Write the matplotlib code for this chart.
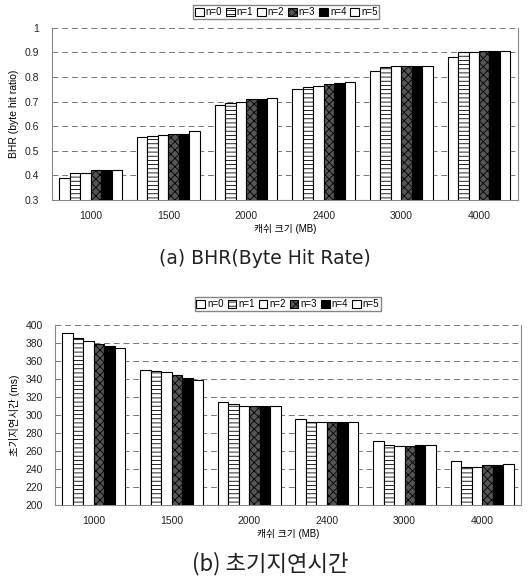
import matplotlib
matplotlib.use('Agg')
from matplotlib import pyplot as plt
import numpy as np

plt.rcParams['font.family'] = ['Liberation Sans', 'Noto Sans CJK KR', 'DejaVu Sans']
plt.rcParams['hatch.linewidth'] = 0.6

# data
cache_sizes = ['1000', '1500', '2000', '2400', '3000', '4000']
series_names = ['n=0', 'n=1', 'n=2', 'n=3', 'n=4', 'n=5']

bhr_n0 = [0.39, 0.555, 0.685, 0.75, 0.826, 0.88]
bhr_n1 = [0.41, 0.56, 0.695, 0.76, 0.84, 0.90]
bhr_n2 = [0.41, 0.565, 0.70, 0.765, 0.845, 0.90]
bhr_n3 = [0.42, 0.57, 0.71, 0.77, 0.845, 0.905]
bhr_n4 = [0.42, 0.57, 0.71, 0.775, 0.845, 0.905]
bhr_n5 = [0.42, 0.58, 0.715, 0.78, 0.845, 0.905]

delay_n0 = [391, 350, 314, 295.5, 271.5, 249]
delay_n1 = [385, 349, 312, 292, 266.7, 242.6]
delay_n2 = [382.6, 348, 310, 292, 265.5, 242]
delay_n3 = [379, 344, 310, 292, 265.5, 244.4]
delay_n4 = [377, 341.5, 310, 292, 266.7, 244.4]
delay_n5 = [374, 339, 310, 292, 267, 245.5]

bhr_ticks = [0.3, 0.4, 0.5, 0.6, 0.7, 0.8, 0.9, 1.0]
bhr_tick_labels = ['0.3', '0.4', '0.5', '0.6', '0.7', '0.8', '0.9', '1']
delay_ticks = [200, 220, 240, 260, 280, 300, 320, 340, 360, 380, 400]

# bar styles (face, hatch)
styles = [('white', ''), ('white', '----'), ('white', ''),
          ('#555555', 'xxxx'), ('black', ''), ('white', '')]

fig = plt.figure(figsize=(5.3, 5.78), dpi=100)
ax_top = fig.add_axes([0.098, 0.654, 0.879, 0.298])
ax_bot = fig.add_axes([0.104, 0.126, 0.879, 0.312])

x = np.arange(len(cache_sizes))
width = 0.135


def draw_bars(ax, data):
    handles = []
    for i, vals in enumerate(data):
        face, hatch = styles[i]
        bars = ax.bar(x + (i - 2.5) * width, vals, width, color=face, hatch=hatch,
                      edgecolor='black', linewidth=0.8, zorder=3, label=series_names[i])
        handles.append(bars)
    return handles


def style_axis(ax):
    ax.set_xlim(-0.5, len(cache_sizes) - 0.5)
    ax.set_xticks(x)
    ax.set_xticklabels(cache_sizes)
    ax.tick_params(axis='both', length=0, labelsize=7.5, colors='#222222', pad=8)
    ax.tick_params(axis='y', pad=9)
    ax.grid(axis='y', color='#777777', linestyle=(0, (6, 4)), linewidth=0.7, zorder=0)
    for s in ax.spines.values():
        s.set_color('#888888')
        s.set_linewidth(0.8)
    ax.spines['top'].set_visible(False)


handles = draw_bars(ax_top, [bhr_n0, bhr_n1, bhr_n2, bhr_n3, bhr_n4, bhr_n5])
style_axis(ax_top)
ax_top.set_ylim(0.3, 1.0)
ax_top.set_yticks(bhr_ticks)
ax_top.set_yticklabels(bhr_tick_labels)
ax_top.set_ylabel('BHR (byte hit ratio)', fontsize=7.5, labelpad=4)
ax_top.set_xlabel('캐쉬 크기 (MB)', fontsize=7, labelpad=2)
fig.legend(handles=handles, loc='center', bbox_to_anchor=(0.54, 0.979), ncol=6,
           fontsize=7, handlelength=0.9, handleheight=0.9, handletextpad=0.2,
           columnspacing=0.4, borderpad=0.2, frameon=True, fancybox=False,
           edgecolor='#666666')
fig.text(0.5, 1 - 258 / 578, '(a) BHR(Byte Hit Rate)', ha='center', va='center',
         fontsize=13.5, color='#222222', family='DejaVu Sans')

handles = draw_bars(ax_bot, [delay_n0, delay_n1, delay_n2, delay_n3, delay_n4, delay_n5])
style_axis(ax_bot)
ax_bot.set_ylim(200, 400)
ax_bot.set_yticks(delay_ticks)
ax_bot.set_ylabel('초기지연시간 (ms)', fontsize=7.5, labelpad=4)
ax_bot.set_xlabel('캐쉬 크기 (MB)', fontsize=7, labelpad=2)
fig.legend(handles=handles, loc='center', bbox_to_anchor=(0.543, 0.474), ncol=6,
           fontsize=7, handlelength=0.9, handleheight=0.9, handletextpad=0.2,
           columnspacing=0.4, borderpad=0.2, frameon=True, fancybox=False,
           edgecolor='#666666')
fig.text(0.51, 1 - 564 / 578, '(b) 초기지연시간', ha='center', va='center',
         fontsize=16, color='#222222', fontweight='light',
         family=['Noto Sans CJK KR', 'DejaVu Sans'])

fig.savefig('out.png', dpi=100)
